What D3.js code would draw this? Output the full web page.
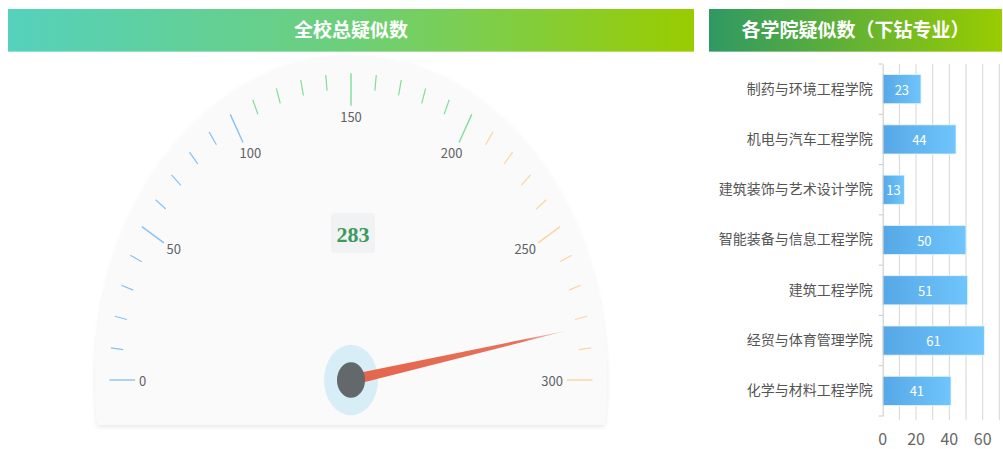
<!DOCTYPE html>
<html>
<head>
<meta charset="utf-8">
<script src="https://cdn.jsdelivr.net/npm/d3@7"></script>
<style>
  body { margin: 0; background: #fff; overflow: hidden; }
  text { font-family: "Noto Sans CJK SC", "Noto Sans", sans-serif; }
</style>
</head>
<body>
<svg id="chart" width="1003" height="449"></svg>
<script>
// Data
var gaugeTitle = "全校总疑似数";
var gaugeValue = 283;
var gaugeMax = 300;
var gaugeMajor = [0, 50, 100, 150, 200, 250, 300];

var barTitle = "各学院疑似数（下钻专业）";
var colleges = ["制药与环境工程学院", "机电与汽车工程学院", "建筑装饰与艺术设计学院",
                "智能装备与信息工程学院", "建筑工程学院", "经贸与体育管理学院", "化学与材料工程学院"];
var counts = [23, 44, 13, 50, 51, 61, 41];
var xTicks = [0, 20, 40, 60];

var svg = d3.select("#chart");
var defs = svg.append("defs");

// Header gradients
function makeGrad(id, stops) {
  var g = defs.append("linearGradient").attr("id", id)
    .attr("x1", "0%").attr("x2", "100%").attr("y1", "0%").attr("y2", "0%");
  stops.forEach(function (s) {
    g.append("stop").attr("offset", s[0]).attr("stop-color", s[1]);
  });
}
makeGrad("hdrLeft", [["0%", "#55d1bd"], ["50%", "#6ccf79"], ["100%", "#99cc00"]]);
makeGrad("hdrRight", [["0%", "#2f9963"], ["100%", "#99cc00"]]);
makeGrad("barGrad", [["0%", "#56a8e6"], ["100%", "#6fc5fc"]]);

var shadow = defs.append("filter").attr("id", "shadow")
  .attr("x", "-10%").attr("y", "-10%").attr("width", "120%").attr("height", "125%");
shadow.append("feDropShadow").attr("dx", 0).attr("dy", 2).attr("stdDeviation", 2)
  .attr("flood-color", "#000").attr("flood-opacity", 0.09);

// Headers
function header(x, w, fill, title) {
  svg.append("rect").attr("x", x).attr("y", 9).attr("width", w).attr("height", 43).attr("fill", fill);
  svg.append("rect").attr("x", x).attr("y", 51).attr("width", w).attr("height", 1)
    .attr("fill", "#fff").attr("opacity", 0.35);
  svg.append("text").attr("x", x + w / 2).attr("y", 28)
    .attr("text-anchor", "middle").attr("dominant-baseline", "central")
    .attr("fill", "#fff").style("font-size", "19px").style("font-weight", "bold")
    .text(title);
}
header(8, 686, "url(#hdrLeft)", gaugeTitle);
header(709, 293, "url(#hdrRight)", barTitle);

// ---------- Gauge ----------
var cx = 351, cy = 380, k = 1.27;   // vertical stretch of the dial
var ang = d3.scaleLinear().domain([0, gaugeMax]).range([Math.PI, 0]);
function pt(v, r) {
  var a = ang(v);
  return [cx + r * Math.cos(a), cy - r * k * Math.sin(a)];
}

var gg = svg.append("g");

// dial background
var bgR = 256, bgBottom = 425;
var half = bgR * Math.sqrt(1 - Math.pow((bgBottom - cy) / (bgR * k), 2));
gg.append("path")
  .attr("d", "M" + (cx - half) + "," + bgBottom + " A" + bgR + "," + (bgR * k) + " 0 1 1 " + (cx + half) + "," + bgBottom + " Z")
  .attr("fill", "#fafafa").attr("filter", "url(#shadow)");

function tickColor(v) {
  if (v <= 100) return "#86c2f2";
  if (v <= 200) return "#82dc9c";
  return "#fbd59f";
}

var minor = d3.range(0, gaugeMax + 1, 10);
var rOut = 241.5;
gg.selectAll("line.tick").data(minor).enter().append("line")
  .attr("class", "tick")
  .each(function (v) {
    var major = v % 50 === 0;
    var p1 = pt(v, rOut), p2 = pt(v, major ? 216 : 229);
    d3.select(this).attr("x1", p1[0]).attr("y1", p1[1]).attr("x2", p2[0]).attr("y2", p2[1]);
  })
  .attr("stroke", tickColor)
  .attr("stroke-width", function (v) { return v % 50 === 0 ? 1.4 : 1.2; });

gg.selectAll("text.lbl").data(gaugeMajor).enter().append("text")
  .attr("class", "lbl")
  .attr("text-anchor", "middle").attr("dominant-baseline", "central")
  .attr("fill", "#5e6166").style("font-size", "13px")
  .text(function (v) { return v; })
  .each(function (v) {
    var w = this.getComputedTextLength(), a = ang(v);
    var p = pt(v, 212);
    d3.select(this)
      .attr("x", p[0] - Math.cos(a) * w / 2)
      .attr("y", p[1] + Math.sin(a) * 6);
  });

// value box
var vb = gg.append("g").attr("transform", "translate(353,233)");
vb.append("rect").attr("x", -22).attr("y", -20).attr("width", 44).attr("height", 40)
  .attr("rx", 4).attr("fill", "#f1f2f3");
vb.append("text").attr("text-anchor", "middle").attr("dominant-baseline", "central")
  .attr("y", 1).attr("fill", "#3a9b5d")
  .style("font-family", "'Liberation Serif', 'DejaVu Serif', serif")
  .style("font-size", "22px").style("font-weight", "bold")
  .text(gaugeValue);

// hub halo
gg.append("ellipse").attr("cx", cx).attr("cy", cy).attr("rx", 27).attr("ry", 27 * k + 1)
  .attr("fill", "#d7eef7");

// needle
var tip = pt(gaugeValue, 218);
var a0 = ang(gaugeValue);
var nx = Math.sin(a0) * k, ny = Math.cos(a0);   // perpendicular (approx)
var nl = Math.sqrt(nx * nx + ny * ny); nx /= nl; ny /= nl;
var ng = defs.append("linearGradient").attr("id", "needleGrad")
  .attr("gradientUnits", "userSpaceOnUse")
  .attr("x1", cx).attr("y1", cy).attr("x2", tip[0]).attr("y2", tip[1]);
ng.append("stop").attr("offset", "0%").attr("stop-color", "#e4654c");
ng.append("stop").attr("offset", "80%").attr("stop-color", "#e8715a");
ng.append("stop").attr("offset", "100%").attr("stop-color", "#f3b2a6").attr("stop-opacity", 0.6);
var hw = 5.5;
gg.append("path")
  .attr("d", d3.line()([[cx + nx * hw, cy + ny * hw], tip, [cx - nx * hw, cy - ny * hw]]) + "Z")
  .attr("fill", "url(#needleGrad)");

gg.append("ellipse").attr("cx", cx).attr("cy", cy).attr("rx", 14).attr("ry", 14 * k)
  .attr("fill", "#63686a");

// ---------- Bar chart ----------
var x = d3.scaleLinear().domain([0, 80]).range([882.7, 1016]);
var y = d3.scaleBand().domain(colleges).range([64, 416]).padding(0);
var barH = y.bandwidth() * 0.58;

var bg = svg.append("g");
// grid
bg.selectAll("line.grid").data(d3.range(10, 81, 10)).enter().append("line")
  .attr("class", "grid")
  .attr("x1", function (d) { return x(d); }).attr("x2", function (d) { return x(d); })
  .attr("y1", 64).attr("y2", 420)
  .attr("stroke", "#d6d6d6").attr("stroke-width", 1);

// bars
var bars = bg.selectAll("g.bar").data(colleges).enter().append("g").attr("class", "bar");
bars.append("rect")
  .attr("x", x(0))
  .attr("y", function (d) { return y(d) + (y.bandwidth() - barH) / 2; })
  .attr("width", function (d, i) { return x(counts[i]) - x(0); })
  .attr("height", barH)
  .attr("fill", "url(#barGrad)")
  .attr("stroke", "#eaf5fd").attr("stroke-width", 0.8);
bars.append("text")
  .attr("x", function (d, i) { return (x(0) + x(counts[i])) / 2; })
  .attr("y", function (d) { return y(d) + y.bandwidth() / 2; })
  .attr("text-anchor", "middle").attr("dominant-baseline", "central")
  .attr("fill", "#fff").style("font-size", "13px")
  .text(function (d, i) { return counts[i]; });

// y axis
var yAxis = bg.append("g").attr("transform", "translate(" + x(0) + ",0)")
  .call(d3.axisLeft(y).tickSize(0).tickPadding(10));
yAxis.select(".domain").attr("stroke", "#c8c8c8");
yAxis.selectAll("text").attr("fill", "#555").style("font-size", "14px")
  .style("font-family", "'Noto Sans CJK SC', sans-serif");
// band boundary ticks
bg.selectAll("line.ytick").data(colleges.concat([null])).enter().append("line")
  .attr("class", "ytick")
  .attr("x1", x(0) - 4).attr("x2", x(0))
  .attr("y1", function (d) { return d ? y(d) : y.range()[1]; })
  .attr("y2", function (d) { return d ? y(d) : y.range()[1]; })
  .attr("stroke", "#c8c8c8");

// x axis labels
bg.selectAll("text.xl").data(xTicks).enter().append("text")
  .attr("class", "xl")
  .attr("x", function (d) { return x(d); }).attr("y", 438)
  .attr("text-anchor", "middle").attr("dominant-baseline", "central")
  .attr("fill", "#666").style("font-size", "16px")
  .text(function (d) { return d; });
</script>
</body>
</html>
